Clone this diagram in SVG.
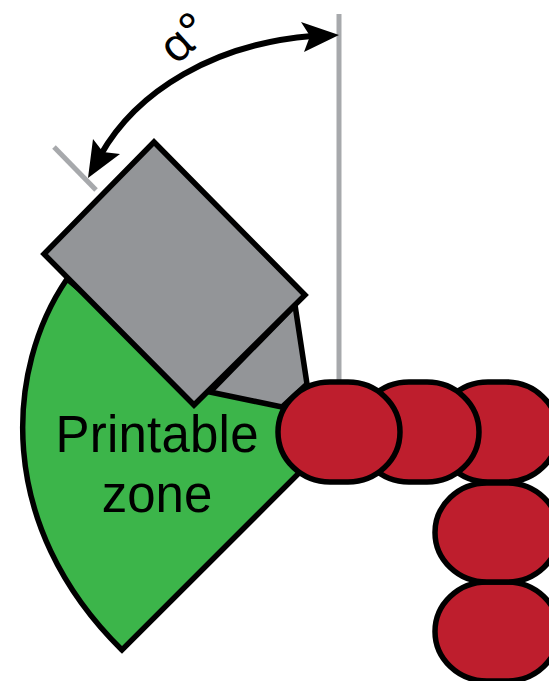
<svg xmlns="http://www.w3.org/2000/svg" width="549" height="681" viewBox="0 0 549 681">
<style>
.o{stroke:#000;stroke-width:5.500;stroke-linejoin:miter}
.r{fill:#be1e2d}
.g{fill:#939598}
.ref{stroke:#a7a9ac;stroke-width:5;fill:none}
text{font-family:"Liberation Sans",Arial,sans-serif;fill:#000}
text.a{font-family:"Noto Sans",sans-serif}
</style>
<g id="reference-lines">
<line class="ref" x1="339" y1="14" x2="339" y2="390"/>
<line class="ref" x1="54" y1="147" x2="96" y2="190"/>
</g>
<g id="printable-zone">
<path class="o" fill="#3cb54a" d="M67 279C6 368 -6 524 122 650L305 467L280 400L200 390Z"/>
<text x="157" y="452" font-size="51" text-anchor="middle" textLength="203" lengthAdjust="spacing">Printable</text>
<text x="157" y="512" font-size="51" text-anchor="middle">zone</text>
</g>
<g id="nozzle">
<path class="o g" d="M295 305L307 384L282 407L210 392Z"/>
<path class="o g" d="M154 142L305 295L194 405L44 254Z"/>
</g>
<g id="beads">
<rect class="o r" x="435" y="582" width="124" height="99" rx="52" ry="49.500"/>
<rect class="o r" x="435" y="483" width="124" height="99" rx="52" ry="49.500"/>
<rect class="o r" x="436" y="382" width="122" height="100" rx="52" ry="50"/>
<rect class="o r" x="357" y="382" width="122" height="100" rx="52" ry="50"/>
<rect class="o r" x="278" y="382" width="122" height="100" rx="52" ry="50"/>
</g>
<g id="connectors">
<path d="M312 36C215 44 137 90 100 156" fill="none" stroke="#000" stroke-width="6"/>
<path d="M339 35L301 22L310 36L304 52Z" fill="#000"/>
<path d="M88 178L93 139L103 152L120 154Z" fill="#000"/>
</g>
<text class="a" transform="translate(176 66) rotate(-42)" font-size="46">α°</text>
</svg>
